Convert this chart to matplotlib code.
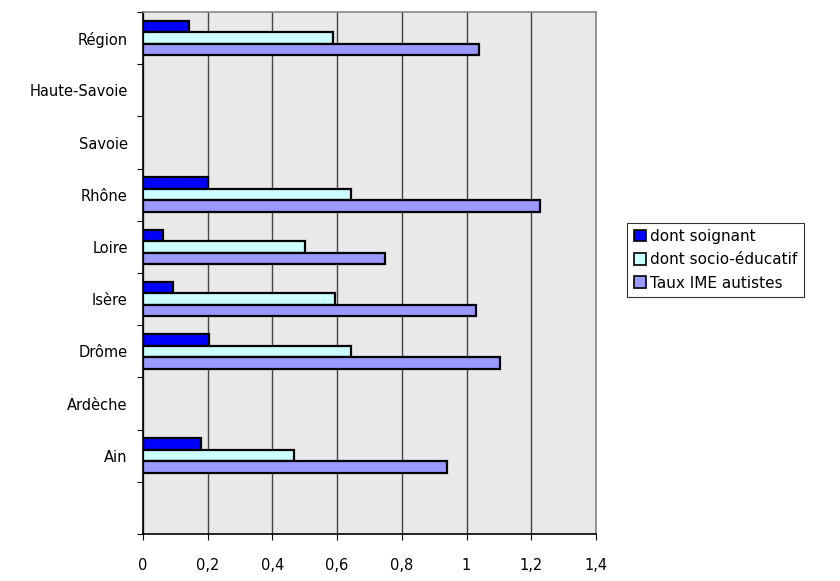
import numpy as np
import matplotlib
matplotlib.use("Agg")
import matplotlib.pyplot as plt
from matplotlib.patches import Patch

# slots from bottom to top (first slot has no label)
categories = ["", "Ain", "Ardèche", "Drôme", "Isère", "Loire", "Rhône",
              "Savoie", "Haute-Savoie", "Région"]
soignant = [np.nan, 0.18, np.nan, 0.205, 0.093, 0.062, 0.20, np.nan, np.nan, 0.142]
socio    = [np.nan, 0.466, np.nan, 0.643, 0.592, 0.50, 0.643, np.nan, np.nan, 0.587]
taux     = [np.nan, 0.94, np.nan, 1.103, 1.03, 0.748, 1.226, np.nan, np.nan, 1.04]
series_names = ["dont soignant", "dont socio-éducatif", "Taux IME autistes"]
colors = ["#0000FF", "#CCFFFF", "#9999FF"]
xticks = [0, 0.2, 0.4, 0.6, 0.8, 1.0, 1.2, 1.4]
xtick_labels = ["0", "0,2", "0,4", "0,6", "0,8", "1", "1,2", "1,4"]

plt.rcParams['font.family'] = ['DejaVu Sans']

fig = plt.figure(figsize=(8.4, 5.81), dpi=100)
ax = fig.add_axes([0.1702, 0.0809, 0.5393, 0.8984])
ax.set_facecolor("#e9e9e9")

h = 0.22
offsets = [h, 0, -h]
for vals, off, col in zip([soignant, socio, taux], offsets, colors):
    ys = [i + off for i, v in enumerate(vals) if not np.isnan(v)]
    ws = [v for v in vals if not np.isnan(v)]
    ax.barh(ys, ws, height=h, color=col, edgecolor="black", linewidth=1.6, zorder=3)

ax.set_xlim(0, 1.4)
ax.set_ylim(-0.5, len(categories) - 0.5)
ax.set_xticks(xticks)
ax.set_xticklabels(xtick_labels, fontsize=10.5)
ax.tick_params(axis="x", length=4, pad=13, direction="out")
ax.xaxis.grid(True, color="#444444", linewidth=1, zorder=1)

# boundaries as major ticks, labels on minor ticks
ax.set_yticks(np.arange(-0.5, len(categories), 1.0))
ax.set_yticklabels([])
ax.set_yticks(np.arange(len(categories)), minor=True)
ax.set_yticklabels(categories, minor=True, fontsize=10.5)
ax.tick_params(axis="y", which="major", length=4)
ax.tick_params(axis="y", which="minor", length=0, pad=11)

for s in ["left", "bottom"]:
    ax.spines[s].set_color("black")
    ax.spines[s].set_linewidth(1.2)
for s in ["top", "right"]:
    ax.spines[s].set_color("#888888")
    ax.spines[s].set_linewidth(1.2)

handles = [Patch(facecolor=c, edgecolor="black", linewidth=1.2) for c in colors]
leg = fig.legend(handles, series_names, loc="center left",
                 bbox_to_anchor=(0.747, 0.553), fontsize=11,
                 frameon=True, fancybox=False, handlelength=0.8,
                 handleheight=0.8, handletextpad=0.3, labelspacing=0.55,
                 borderpad=0.4, borderaxespad=0)
leg.get_frame().set_edgecolor("black")
leg.get_frame().set_linewidth(0.8)

fig.savefig("out.png", dpi=100)
